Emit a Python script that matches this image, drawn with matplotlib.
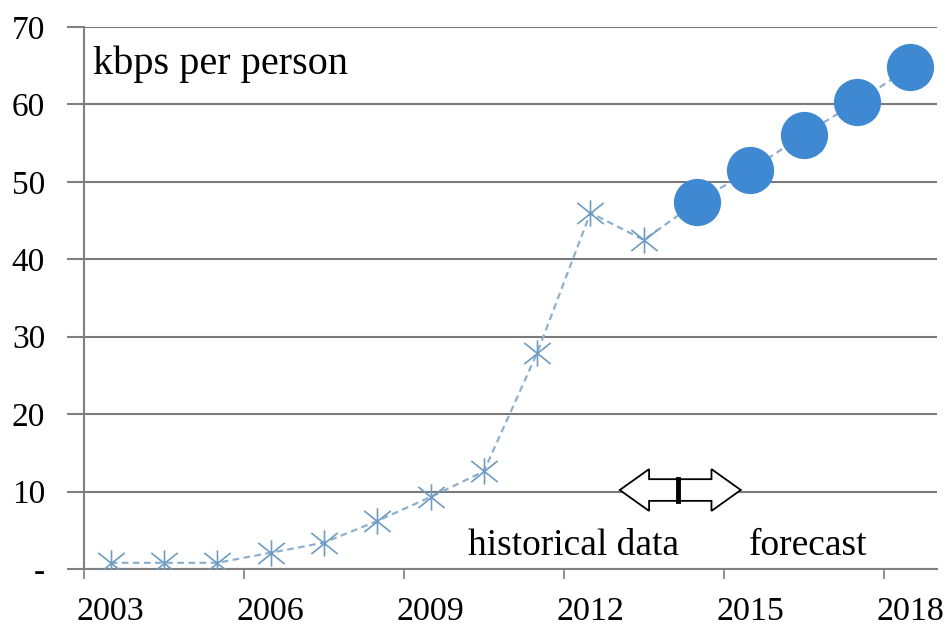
import matplotlib.pyplot as plt
from matplotlib.patches import FancyArrow
from matplotlib.path import Path

hist_years = [2003, 2004, 2005, 2006, 2007, 2008, 2009, 2010, 2011, 2012, 2013]
hist_vals = [0.8, 0.8, 0.8, 2.1, 3.4, 6.2, 9.3, 12.6, 27.9, 46.0, 42.5]
fc_years = [2014, 2015, 2016, 2017, 2018]
fc_vals = [47.4, 51.5, 56.1, 60.3, 64.8]
year_labels = [2003, 2006, 2009, 2012, 2015, 2018]
y_ticks = [0, 10, 20, 30, 40, 50, 60, 70]
y_labels = ["-", "10", "20", "30", "40", "50", "60", "70"]

plt.rcParams['font.family'] = ['Liberation Serif', 'DejaVu Serif']

# asterisk marker: vertical bar plus an X
star = Path([(0, -1), (0, 1), (-1, -0.8), (1, 0.8), (-1, 0.8), (1, -0.8)],
            [Path.MOVETO, Path.LINETO, Path.MOVETO, Path.LINETO, Path.MOVETO, Path.LINETO])

fig = plt.figure(figsize=(9.47, 6.27), dpi=100)
ax = fig.add_axes([0.0887, 0.0925, 0.9007, 0.8645])

all_years = hist_years + fc_years
all_vals = hist_vals + fc_vals
ax.plot(all_years, all_vals, linestyle=(0, (3, 2)), color='#8fb0cc', lw=1.6, zorder=2)
ax.plot(hist_years, hist_vals, linestyle='none', marker=star, markersize=19,
        markeredgecolor='#6c9cc4', markeredgewidth=1.2, zorder=3)
ax.plot(fc_years, fc_vals, linestyle='none', marker='o', markersize=34,
        color='#3f88d2', markeredgewidth=0, zorder=3)

ax.set_xlim(2002.5, 2018.5)
ax.set_ylim(0, 70)
ax.set_yticks(y_ticks)
ax.set_yticklabels(y_labels)
ax.set_xticks(year_labels)
ax.set_xticklabels([str(y) for y in year_labels])
ax.set_xticks([y - 0.5 for y in year_labels], minor=True)
ax.tick_params(axis='x', which='major', length=0, pad=20, labelsize=24.5)
ax.tick_params(axis='x', which='minor', length=7, width=1.2, color='#808080', direction='out')
ax.tick_params(axis='y', length=12, width=1.5, color='#808080', pad=16, labelsize=24)

ax.grid(axis='y', color='#7a7a7a', lw=1.5, zorder=1)
for s in ['top', 'right']:
    ax.spines[s].set_visible(False)
for s in ['left', 'bottom']:
    ax.spines[s].set_color('#808080')
    ax.spines[s].set_linewidth(1.5)

ax.text(0.01, 0.965, 'kbps per person', transform=ax.transAxes, fontsize=29,
        va='top', ha='left')
ax.text(2011.69, 3.0, 'historical data', fontsize=27, ha='center', va='center')
ax.text(2016.09, 3.0, 'forecast', fontsize=27, ha='center', va='center')

# double arrow between historical and forecast
ax.add_patch(FancyArrow(2013.65, 10.2, -1.1, 0, width=2.8, head_width=5.4, head_length=0.55,
                        length_includes_head=True, facecolor='white', edgecolor='black',
                        lw=1.3, zorder=4))
ax.add_patch(FancyArrow(2013.65, 10.2, 1.17, 0, width=2.8, head_width=5.4, head_length=0.55,
                        length_includes_head=True, facecolor='white', edgecolor='black',
                        lw=1.3, zorder=4))
ax.plot([2013.65, 2013.65], [8.8, 11.6], color='black', lw=3.5, zorder=5)

fig.savefig('out.png', dpi=100)
